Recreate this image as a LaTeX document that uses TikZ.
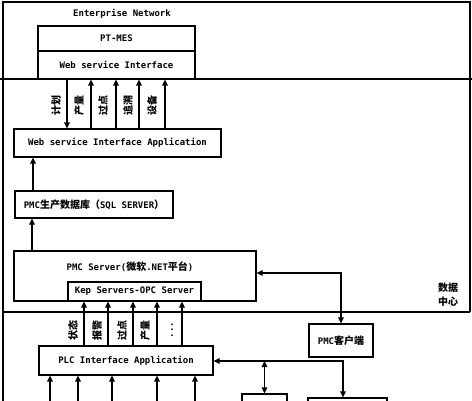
\documentclass[tikz,border=0pt]{standalone}
\usepackage{fontspec}
\setmainfont{DejaVu Sans Mono}
\newfontfamily\cjkfont{Noto Sans CJK SC}
\newcommand{\zh}[1]{{\cjkfont\fontsize{10}{12}\selectfont\bfseries #1}}
\usetikzlibrary{arrows.meta}
\begin{document}
\begin{tikzpicture}[x=1pt,y=-1pt, line width=1.1pt,
  font=\fontsize{9}{11}\selectfont\bfseries,
  >={Triangle[length=6pt,width=5.5pt]},
  box/.style={draw, rectangle, inner sep=0pt},
  txt/.style={inner sep=0pt},
  lbl/.style={rotate=90, inner sep=0pt}]
\useasboundingbox (0,0) rectangle (472,400);
\clip (0,0) rectangle (472,400);
% frame
\draw (3,401) -- (3,2) -- (470,2) -- (470,312);
\draw (0,79) -- (472,79);
\draw (3,312) -- (470,312);
\node[txt] (ent) at (122,14) {Enterprise Network};
% top boxes
\node[box, minimum width=157pt, minimum height=25pt] (ptmes) at (116.5,38.5) {PT-MES};
\node[box, minimum width=157pt, minimum height=28pt] (wsi) at (116.5,65) {Web service Interface};
\node[box, minimum width=207pt, minimum height=28pt] (app) at (117.5,143) {Web service Interface Application};
\node[box, minimum width=158pt, minimum height=27pt] (db) at (94,204.5) {PMC\zh{生产数据库（}SQL SERVER\zh{）}};
\node[box, minimum width=242pt, minimum height=50pt] (pmc) at (135,276) {};
\node[txt] (pmct) at (130,267) {PMC Server(\zh{微软}.NET\zh{平台})};
\node[box, minimum width=133pt, minimum height=19pt] (kep) at (134.5,291.5) {Kep Servers-OPC Server};
\node[box, minimum width=64pt, minimum height=33pt] (client) at (341,340.5) {PMC\zh{客户端}};
\node[box, minimum width=174pt, minimum height=29pt] (plc) at (126,360.5) {PLC Interface Application};
\node[box, minimum width=45pt, minimum height=26pt] (b1) at (264.5,407) {};
\node[box, minimum width=79pt, minimum height=26pt] (b2) at (347.5,411) {};
\node[txt] (dc1) at (448,288) {\zh{数据}};
\node[txt] (dc2) at (448,302) {\zh{中心}};
% top connectors
\coordinate (t1) at (67,0);
\coordinate (t2) at (91,0);
\coordinate (t3) at (116,0);
\coordinate (t4) at (139,0);
\coordinate (t5) at (165,0);
\draw[->] (wsi.south -| t1) -- (app.north -| t1);
\foreach \c in {t2,t3,t4,t5} \draw[->] (app.north -| \c) -- (wsi.south -| \c);
\node[lbl] (l1) at (56,105) {\zh{计划}};
\node[lbl] (l2) at (79,105) {\zh{产量}};
\node[lbl] (l3) at (103,105) {\zh{过点}};
\node[lbl] (l4) at (128,105) {\zh{追溯}};
\node[lbl] (l5) at (152,105) {\zh{设备}};
% db connectors
\coordinate (d1) at (33,0);
\coordinate (d2) at (32,0);
\draw[->] (db.north -| d1) -- (app.south -| d1);
\draw[->] (pmc.north -| d2) -- (db.south -| d2);
% kep connectors
\coordinate (m1) at (84,0);
\coordinate (m2) at (108,0);
\coordinate (m3) at (133,0);
\coordinate (m4) at (157,0);
\coordinate (m5) at (182,0);
\foreach \c in {m1,m2,m3,m4,m5} \draw[->] (plc.north -| \c) -- (kep.south -| \c);
\node[lbl] (n1) at (73,330) {\zh{状态}};
\node[lbl] (n2) at (97,330) {\zh{报警}};
\node[lbl] (n3) at (122,330) {\zh{过点}};
\node[lbl] (n4) at (145,330) {\zh{产量}};
\node[lbl] (n5) at (172,330) {...};
% bottom connectors
\coordinate (bot) at (0,401);
\foreach \x in {50,78,112,157,195} {
  \coordinate (bb) at (\x,0);
  \draw[->] (bot -| bb) -- (plc.south -| bb);
}
% right side
\coordinate (k1) at (341,273);
\draw[<->] (pmc.east |- k1) -- (k1) -- (client.north);
\coordinate (k2) at (343,361);
\draw[<->] (plc.east |- k2) -- (k2) -- (b2.north -| k2);
\coordinate (k3) at (264.5,361);
\draw[<->] (k3) -- (b1.north);
\end{tikzpicture}
\end{document}
